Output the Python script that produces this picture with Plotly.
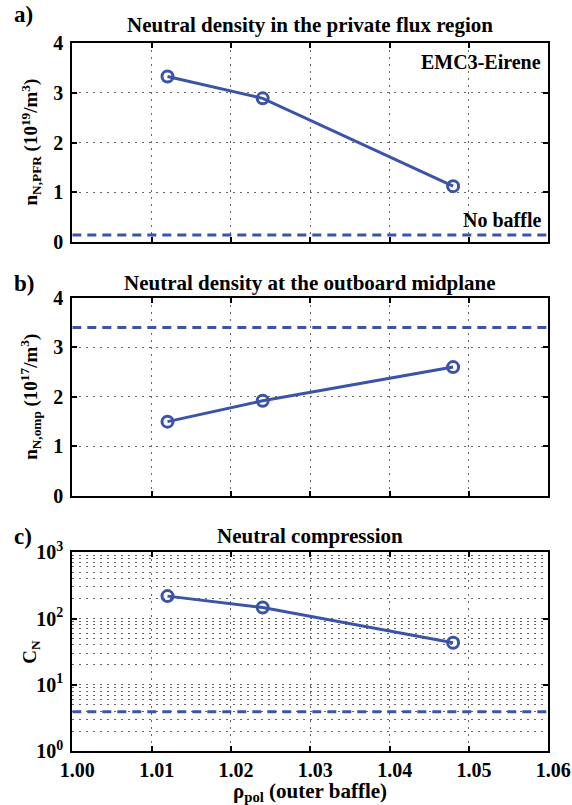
import plotly.graph_objects as go

# ---- data ----
rho_pol = [1.012, 1.024, 1.048]
n_pfr = [3.33, 2.89, 1.12]
n_pfr_nobaffle = 0.135
n_omp = [1.50, 1.92, 2.60]
n_omp_nobaffle = 3.40
c_n = [218, 147, 43]
c_n_nobaffle = 3.9
x_range = [1.00, 1.06]
x_ticks = [1.00, 1.01, 1.02, 1.03, 1.04, 1.05, 1.06]
x_ticktext = ["1.00", "1.01", "1.02", "1.03", "1.04", "1.05", "1.06"]
titles = ["Neutral density in the private flux region",
          "Neutral density at the outboard midplane",
          "Neutral compression"]
panel_labels = ["a)", "b)", "c)"]
ytitles = ["n<sub>N,PFR</sub> (10<sup>19</sup>/m<sup>3</sup>)",
           "n<sub>N,omp</sub> (10<sup>17</sup>/m<sup>3</sup>)",
           "C<sub>N</sub>"]

W, H = 572, 805
BLUE = "#3b54a8"
FONT = "Liberation Serif"
GRID = "2px,5px"
GRIDC = "#666"

def py(pix):
    return 1 - pix / H

L, R = 72.3, 548.3
tops = [43.3, 297.7, 552.3]
bots = [241.7, 496.0, 751.0]
xdom = [L / W, R / W]
ydoms = [[py(b), py(t)] for t, b in zip(tops, bots)]

fig = go.Figure()
series = [n_pfr, n_omp, c_n]
nob = [n_pfr_nobaffle, n_omp_nobaffle, c_n_nobaffle]
for i in range(3):
    xa = "x" if i == 0 else f"x{i+1}"
    ya = "y" if i == 0 else f"y{i+1}"
    fig.add_trace(go.Scatter(x=x_range, y=[nob[i], nob[i]], mode="lines",
                             line=dict(color=BLUE, width=3, dash="9px,6px"),
                             xaxis=xa, yaxis=ya, showlegend=False))
    fig.add_trace(go.Scatter(x=rho_pol, y=series[i], mode="lines+markers",
                             line=dict(color=BLUE, width=3),
                             marker=dict(symbol="circle-open", size=11, color=BLUE,
                                         line=dict(width=3, color=BLUE)),
                             xaxis=xa, yaxis=ya, showlegend=False))

tickfont = dict(family=FONT, size=20, color="black", weight="bold")
common = dict(showline=True, linecolor="black", linewidth=2, mirror="ticks",
              ticks="inside", ticklen=5, tickwidth=1.5, tickcolor="black",
              automargin=False, showgrid=True, gridcolor=GRIDC, griddash=GRID,
              gridwidth=1, zeroline=False, tickfont=tickfont)

layout = dict(width=W, height=H, margin=dict(l=0, r=0, t=0, b=0, autoexpand=False),
              plot_bgcolor="white", paper_bgcolor="white", showlegend=False)

for i in range(3):
    xk = "xaxis" if i == 0 else f"xaxis{i+1}"
    yk = "yaxis" if i == 0 else f"yaxis{i+1}"
    layout[xk] = dict(common, domain=xdom, anchor="y" if i == 0 else f"y{i+1}",
                      range=x_range, tickvals=x_ticks, ticktext=x_ticktext,
                      showticklabels=(i == 2), ticklabelshift=5)
    ya = dict(common, domain=ydoms[i], anchor="x" if i == 0 else f"x{i+1}", ticklabelstandoff=3)
    if i < 2:
        ya.update(range=[0, 4], tickvals=[0, 1, 2, 3, 4])
    else:
        minor_vals = [m * 10 ** k for k in range(3) for m in range(2, 10)]
        ya.update(type="log", range=[0, 3], tickvals=[1, 10, 100, 1000],
                  ticktext=["10<sup>0</sup>", "10<sup>1</sup>", "10<sup>2</sup>", "10<sup>3</sup>"],
                  minor=dict(tickvals=minor_vals, showgrid=True, gridcolor=GRIDC,
                             griddash=GRID, gridwidth=1, ticks=""))
    layout[yk] = ya

fig.update_layout(**layout)

def txt(s, x, y, size, xanchor="center", angle=0):
    fig.add_annotation(text=s, x=x / W, y=py(y), xref="paper", yref="paper",
                       showarrow=False, xanchor=xanchor, yanchor="middle",
                       textangle=angle,
                       font=dict(family=FONT, size=size, color="black", weight="bold"))

title_y = [25, 283, 536]
label_y = [14, 283, 536]
for i in range(3):
    txt(titles[i], (L + R) / 2, title_y[i], 21)
    txt(panel_labels[i], 12, label_y[i], 23, xanchor="left")
    txt(ytitles[i], 31, (tops[i] + bots[i]) / 2, 19, angle=-90)

txt("EMC3-Eirene", 543, 62, 20, xanchor="right")
txt("No baffle", 543, 220, 20, xanchor="right")
txt("ρ<sub>pol</sub> (outer baffle)", (L + R) / 2, 792, 21)

fig.write_html("out.html")
